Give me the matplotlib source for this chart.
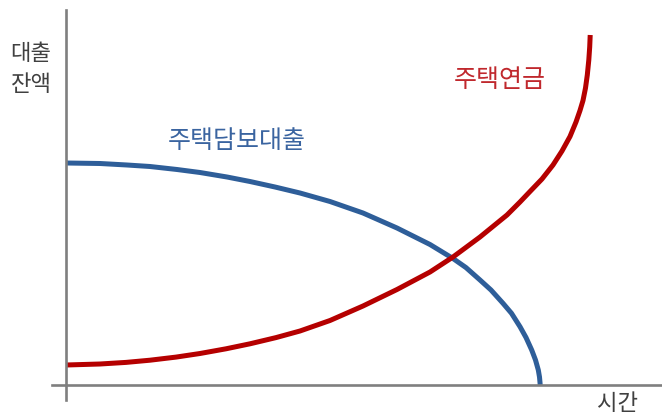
import matplotlib
matplotlib.use('Agg')
import matplotlib.pyplot as plt

plt.rcParams['font.family'] = ['Noto Sans CJK KR', 'DejaVu Sans']

# 주택담보대출 (blue) - balance
mortgage_time = [0, 34, 61, 84, 111, 134, 161, 184, 209, 234, 264, 297, 331, 364, 387, 400, 414,
                 425, 437, 445.5, 454, 460, 465.7, 469.5, 472.3, 473.5, 474, 474.2]
mortgage_balance = [222, 221.5, 220, 218.5, 215.5, 212.5, 208, 203.5, 198, 192, 183.5, 172, 157, 140.5, 126.5, 117.4, 105,
                    95, 81.7, 71.7, 58.3, 47.5, 35, 25, 15, 8, 2.5, 0]

# 주택연금 (red)
pension_time = [0, 34, 60, 84, 110, 134, 160, 184, 210, 234, 264, 297, 331, 364, 387, 414, 441, 454, 464,
                476, 487, 496, 504, 510, 514, 517, 519.5, 521.3, 522.8, 523.7, 524.2]
pension_balance = [20, 21, 22.6, 24.8, 27.9, 31.5, 36.2, 41.2, 47.4, 54, 64.5, 79, 95.5, 113, 128, 148, 170, 183, 193.5,
                   206, 220, 234, 248.5, 263, 274.5, 284.5, 297, 310, 325, 338, 350]

blue = '#2E5E99'
red = '#B50000'
axis_grey = '#7F7F7F'

fig = plt.figure(figsize = (6.62, 4.16), dpi = 100)
ax = fig.add_axes([52 / 662, 16 / 416, 610 / 662, 390 / 416])

ax.plot(mortgage_time, mortgage_balance, color = blue, linewidth = 3.6, solid_capstyle = 'butt', solid_joinstyle = 'round')
ax.plot(pension_time, pension_balance, color = red, linewidth = 3.6, solid_capstyle = 'butt', solid_joinstyle = 'round')

ax.set_xlim(-14, 596)
ax.set_ylim(-15, 375)

for side in ['top', 'right']:
    ax.spines[side].set_visible(False)
ax.spines['left'].set_position(('data', 0))
ax.spines['bottom'].set_position(('data', 0))
for side in ['left', 'bottom']:
    ax.spines[side].set_color(axis_grey)
    ax.spines[side].set_linewidth(1.9)
    ax.spines[side].set_zorder(3)
ax.set_xticks([])
ax.set_yticks([])

fig.text(31 / 662, 1 - 69 / 416, '대출\n잔액', ha = 'center', va = 'center', fontsize = 16, color = '#404040', linespacing = 1.45)
fig.text(617 / 662, 1 - 404 / 416, '시간', ha = 'center', va = 'center', fontsize = 16, color = '#404040')

fig.text(237 / 662, 1 - 141 / 416, '주택담보대출', ha = 'center', va = 'center', fontsize = 18, color = '#3A64A0')
fig.text(500 / 662, 1 - 80 / 416, '주택연금', ha = 'center', va = 'center', fontsize = 18, color = '#C0282D')

plt.savefig('out.png', dpi = 100)
